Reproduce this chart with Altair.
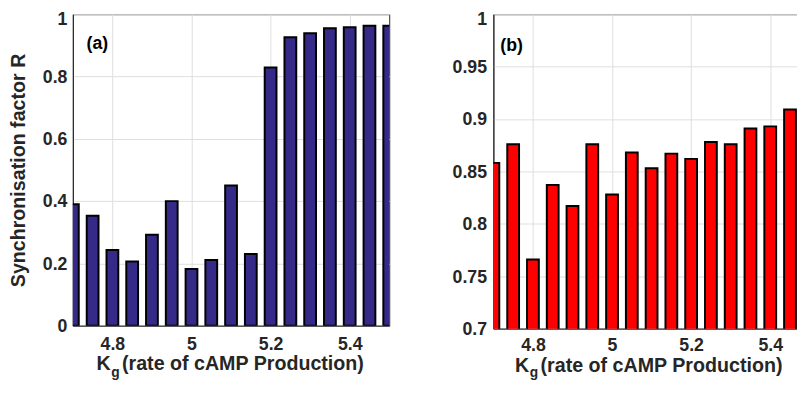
import altair as alt
import pandas as pd

# K_g values (bar centres)
kg = [4.70, 4.75, 4.80, 4.85, 4.90, 4.95, 5.00, 5.05, 5.10, 5.15,
      5.20, 5.25, 5.30, 5.35, 5.40, 5.45, 5.50]
# panel (a) synchronisation factor R
sync_a = [0.390, 0.353, 0.243, 0.206, 0.292, 0.400, 0.182, 0.211, 0.450, 0.230,
          0.829, 0.926, 0.939, 0.955, 0.958, 0.963, 0.963]
# panel (b) synchronisation factor R
sync_b = [0.858, 0.876, 0.766, 0.837, 0.817, 0.876, 0.828, 0.868, 0.853, 0.867,
          0.862, 0.878, 0.876, 0.891, 0.893, 0.909, 0.848]

x_ticks = [4.8, 5.0, 5.2, 5.4]
y_ticks_a = [0, 0.2, 0.4, 0.6, 0.8, 1.0]
y_ticks_b = [0.7, 0.75, 0.8, 0.85, 0.9, 0.95, 1.0]

x_title_main = "K"
x_title_sub = "g"
x_title_rest = "(rate of cAMP Production)"
y_title = "Synchronisation factor R"

FONT = "Liberation Sans"
TXT = "#262626"


def panel(values, color, xdom, ydom, yticks, width, height, label, label_xy,
          ytitle, lab_pad, xlab_pad, title_x0, title_y, sub_dy):
    df = pd.DataFrame({"kg": kg, "r": values})
    yaxis = dict(values=yticks, format="~g", labelPadding=lab_pad,
                 labelOffset={"condition": {"test": "datum.value == 1", "value": 5},
                              "value": 1},
                 grid=True, ticks=False, tickSize=0)
    if ytitle:
        yaxis.update(title=ytitle, titlePadding=14)
    else:
        yaxis.update(title=None)
    bars = alt.Chart(df).mark_bar(
        size=12, clip=True, color=color, stroke="black", strokeWidth=2
    ).encode(
        x=alt.X("kg:Q",
                scale=alt.Scale(domain=xdom, nice=False, zero=False, padding=0),
                axis=alt.Axis(values=x_ticks, format="~g", title=None,
                              labelPadding=xlab_pad, grid=True, ticks=False,
                              tickSize=0)),
        y=alt.Y("r:Q",
                scale=alt.Scale(domain=ydom, nice=False, zero=False, padding=0),
                axis=alt.Axis(**yaxis)),
    )
    lab = alt.Chart(pd.DataFrame({"t": [label]})).mark_text(
        font=FONT, fontSize=18, fontWeight="bold", color="black",
        align="left", baseline="alphabetic"
    ).encode(text="t:N", x=alt.value(label_xy[0]), y=alt.value(label_xy[1]))
    t1 = alt.Chart(pd.DataFrame({"t": [x_title_main]})).mark_text(
        font=FONT, fontSize=20, fontWeight="bold", color=TXT,
        align="left", baseline="alphabetic"
    ).encode(text="t:N", x=alt.value(title_x0), y=alt.value(title_y))
    t2 = alt.Chart(pd.DataFrame({"t": [x_title_sub]})).mark_text(
        font=FONT, fontSize=14, fontWeight="bold", color=TXT,
        align="left", baseline="alphabetic"
    ).encode(text="t:N", x=alt.value(title_x0 + 15), y=alt.value(title_y + sub_dy))
    t3 = alt.Chart(pd.DataFrame({"t": [x_title_rest]})).mark_text(
        font=FONT, fontSize=20, fontWeight="bold", color=TXT,
        align="left", baseline="alphabetic"
    ).encode(text="t:N", x=alt.value(title_x0 + 26), y=alt.value(title_y))
    return alt.layer(bars, lab, t1, t2, t3).properties(width=width, height=height)


pa = panel(sync_a, "#352a87", [4.7, 5.5], [0, 1], y_ticks_a, 322, 317,
           "(a)", (14, 35), y_title, 6, 10, 24, 362, 7)
pb = panel(sync_b, "#ff0000", [4.7, 5.4776], [0.7, 1], y_ticks_b, 313, 320,
           "(b)", (7, 37.5), None, 7, 8, 22, 364, 5)

chart = alt.hconcat(pa, pb, spacing=106, bounds="flush").properties(
    padding={"left": 0, "top": -2, "right": -5, "bottom": 0},
    background="white",
).configure_view(
    stroke=TXT, strokeWidth=1
).configure_axis(
    labelFont=FONT, labelFontSize=18, labelFontWeight="bold", labelColor=TXT,
    titleFont=FONT, titleFontSize=20, titleFontWeight="bold", titleColor=TXT,
    domainColor=TXT, domainWidth=1, gridColor="#dedede", gridWidth=1,
)

chart.save("out.html", embed_options={"renderer": "svg", "actions": False})
